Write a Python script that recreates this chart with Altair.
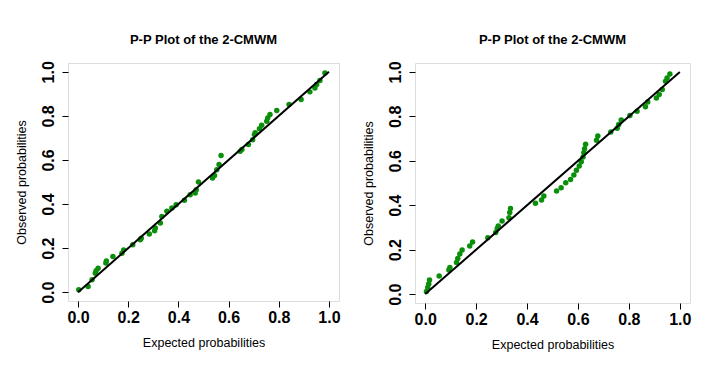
import altair as alt
import pandas as pd

TITLE = "P-P Plot of the 2-CMWM"
X_TITLE = "Expected probabilities"
Y_TITLE = "Observed probabilities"
TICKS = [0.0, 0.2, 0.4, 0.6, 0.8, 1.0]

left_x = [0.003, 0.04, 0.056, 0.069, 0.072, 0.08, 0.111, 0.113, 0.139, 0.175, 0.182, 0.218,
          0.248, 0.252, 0.284, 0.305, 0.308, 0.328, 0.334, 0.354, 0.374, 0.391, 0.424, 0.447,
          0.467, 0.471, 0.48, 0.536, 0.544, 0.553, 0.562, 0.570, 0.646, 0.653, 0.679, 0.696,
          0.703, 0.706, 0.723, 0.732, 0.752, 0.756, 0.765, 0.792, 0.841, 0.889, 0.924, 0.944,
          0.951, 0.964, 0.984]
left_y = [0.011, 0.026, 0.056, 0.086, 0.097, 0.109, 0.132, 0.142, 0.162, 0.177, 0.192, 0.215,
          0.238, 0.245, 0.264, 0.279, 0.291, 0.314, 0.344, 0.367, 0.382, 0.397, 0.417, 0.442,
          0.45, 0.465, 0.5, 0.518, 0.530, 0.556, 0.579, 0.620, 0.639, 0.647, 0.670, 0.692,
          0.715, 0.723, 0.742, 0.758, 0.776, 0.791, 0.806, 0.824, 0.852, 0.874, 0.909, 0.927,
          0.942, 0.961, 0.995]

right_x = [0.005, 0.01, 0.014, 0.017, 0.055, 0.093, 0.097, 0.123, 0.128, 0.136, 0.145, 0.175,
           0.186, 0.246, 0.277, 0.283, 0.287, 0.302, 0.329, 0.332, 0.335, 0.433, 0.457, 0.466,
           0.516, 0.534, 0.552, 0.571, 0.584, 0.594, 0.605, 0.613, 0.62, 0.623, 0.626, 0.63,
           0.673, 0.678, 0.729, 0.754, 0.76, 0.77, 0.804, 0.832, 0.865, 0.874, 0.908, 0.919,
           0.931, 0.944, 0.95, 0.961]
right_y = [0.012, 0.03, 0.045, 0.063, 0.082, 0.108, 0.12, 0.142, 0.16, 0.18, 0.198, 0.217,
           0.235, 0.254, 0.277, 0.295, 0.307, 0.329, 0.344, 0.367, 0.385, 0.409, 0.424, 0.442,
           0.464, 0.479, 0.501, 0.516, 0.536, 0.557, 0.576, 0.596, 0.617, 0.636, 0.654, 0.674,
           0.692, 0.711, 0.729, 0.746, 0.763, 0.783, 0.804, 0.823, 0.843, 0.864, 0.883, 0.898,
           0.921, 0.958, 0.973, 0.991]

ref_line = pd.DataFrame({"x": [0.0, 1.0], "y": [0.0, 1.0]})

FONT = "Liberation Sans"


def panel(xs, ys, w, h):
    pts = pd.DataFrame({"x": xs, "y": ys})
    xscale = alt.Scale(domain=[-0.04, 1.04], nice=False, zero=False)
    yscale = alt.Scale(domain=[-0.04, 1.04], nice=False, zero=False)
    xaxis = alt.Axis(values=TICKS, format=".1f", title=X_TITLE, grid=False, domain=False,
                     tickColor="black", tickSize=6, labelPadding=2,
                     labelFont=FONT, labelFontSize=16, labelFontWeight="bold", labelColor="black",
                     titleFont=FONT, titleFontSize=12.5, titleFontWeight="normal",
                     titleColor="black", titlePadding=11)
    yaxis = alt.Axis(values=TICKS, format=".1f", title=Y_TITLE, grid=False, domain=False,
                     tickColor="black", tickSize=6, labelPadding=9, labelAngle=270,
                     labelAlign="center", labelBaseline="alphabetic",
                     labelFont=FONT, labelFontSize=16, labelFontWeight="bold", labelColor="black",
                     titleFont=FONT, titleFontSize=12.5, titleFontWeight="normal",
                     titleColor="black", titlePadding=12)
    points = alt.Chart(pts).mark_circle(size=30, color="#0a8f0a", opacity=1).encode(
        x=alt.X("x:Q", scale=xscale, axis=xaxis),
        y=alt.Y("y:Q", scale=yscale, axis=yaxis),
    )
    line = alt.Chart(ref_line).mark_line(color="black", strokeWidth=2).encode(
        x=alt.X("x:Q", scale=xscale),
        y=alt.Y("y:Q", scale=yscale),
    )
    return alt.layer(points, line).properties(
        width=w, height=h,
        title=alt.TitleParams(TITLE, font=FONT, fontSize=13, fontWeight="bold",
                              color="black", offset=14),
    )


left = panel(left_x, left_y, 271, 238)
right = panel(right_x, right_y, 275, 240)

chart = alt.hconcat(left, right, spacing=20).configure_view(
    stroke="#555555", strokeWidth=1
).configure(background="white", padding={"left": 6, "top": 25, "right": 5, "bottom": 5})

chart.save("out.html", embed_options={"renderer": "svg", "actions": False})
